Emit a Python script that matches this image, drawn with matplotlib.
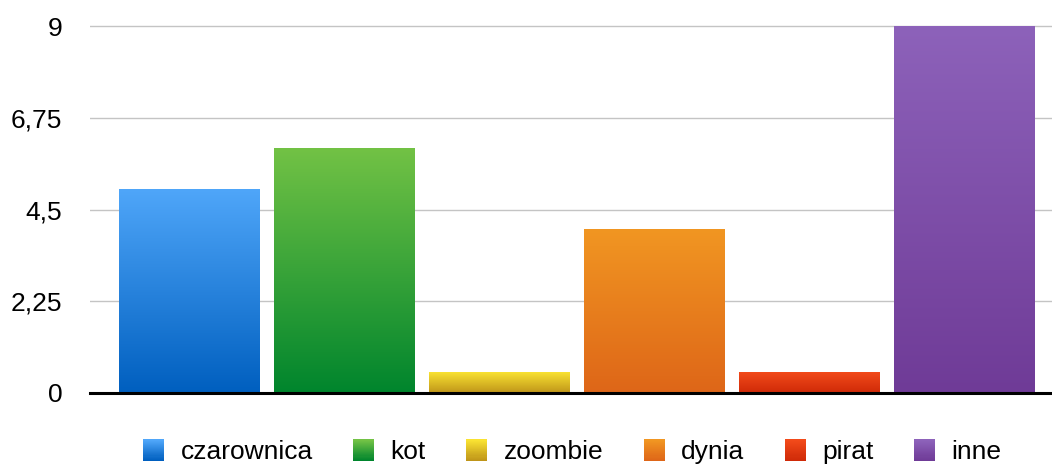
import numpy as np
import matplotlib
matplotlib.use('Agg')
import matplotlib.pyplot as plt
from matplotlib.colors import LinearSegmentedColormap
from matplotlib.patches import Patch, Rectangle
from matplotlib.legend_handler import HandlerBase

categories = ['czarownica', 'kot', 'zoombie', 'dynia', 'pirat', 'inne']
values = [5, 6, 0.5, 4, 0.5, 9]
yticks = [0, 2.25, 4.5, 6.75, 9]
ytick_labels = ['0', '2,25', '4,5', '6,75', '9']

# gradient colours (top, bottom) per bar
top_colors = ['#4fa6f9', '#72c245', '#f9e232', '#f19622', '#f24a1a', '#8d62ba']
bottom_colors = ['#005fbf', '#00852d', '#bf9519', '#de6618', '#cf2a08', '#6f3b97']

plt.rcParams['font.family'] = ['Liberation Sans', 'DejaVu Sans']


class GradientHandler(HandlerBase):
    # legend square with vertical gradient, built from thin stripes
    def create_artists(self, legend, orig_handle, xdescent, ydescent,
                       width, height, fontsize, trans):
        cmap = orig_handle.cmap
        n = 20
        side = height
        x0 = -xdescent + (width - side) / 2
        y0 = -ydescent
        arts = []
        for i in range(n):
            r = Rectangle((x0, y0 + side * i / n), side, side / n + 0.3,
                          facecolor=cmap(i / (n - 1)), edgecolor='none', transform=trans)
            arts.append(r)
        return arts


fig = plt.figure(figsize=(10.52, 4.66), dpi=100)
ax = fig.add_axes([90 / 1052, 73 / 466, 962 / 1052, 369 / 466])

x = np.arange(len(categories))
bars = ax.bar(x, values, width=0.904, color='none', zorder=2)

grad = np.linspace(0, 1, 256).reshape(-1, 1)
handles = []
for b, ct, cb in zip(bars, top_colors, bottom_colors):
    cmap = LinearSegmentedColormap.from_list('g', [cb, ct])
    x0, y0 = b.get_x(), b.get_y()
    ax.imshow(grad, cmap=cmap, origin='lower', aspect='auto',
              extent=[x0, x0 + b.get_width(), y0, y0 + b.get_height()],
              zorder=2, interpolation='bilinear')
    h = Patch(facecolor=ct)
    h.cmap = cmap
    handles.append(h)

ax.set_xlim(-0.64, 5.57)
ax.set_ylim(0, 9.05)
ax.set_yticks(yticks)
ax.set_yticklabels(ytick_labels, fontsize=19)
ax.set_xticks([])
ax.tick_params(axis='y', length=0, pad=20)
ax.yaxis.grid(True, color='#c4c4c4', linewidth=1)
ax.set_axisbelow(True)
for s in ['top', 'right', 'left']:
    ax.spines[s].set_visible(False)
ax.spines['bottom'].set_color('black')
ax.spines['bottom'].set_linewidth(2.2)
ax.spines['bottom'].set_zorder(3)

fig.legend(handles, categories, loc='center', bbox_to_anchor=(572 / 1052, 14 / 466),
           ncol=6, frameon=False, fontsize=19, handlelength=0.85, handleheight=0.85,
           handletextpad=0.6, columnspacing=1.5,
           handler_map={Patch: GradientHandler()})

plt.savefig('out.png', dpi=100)
